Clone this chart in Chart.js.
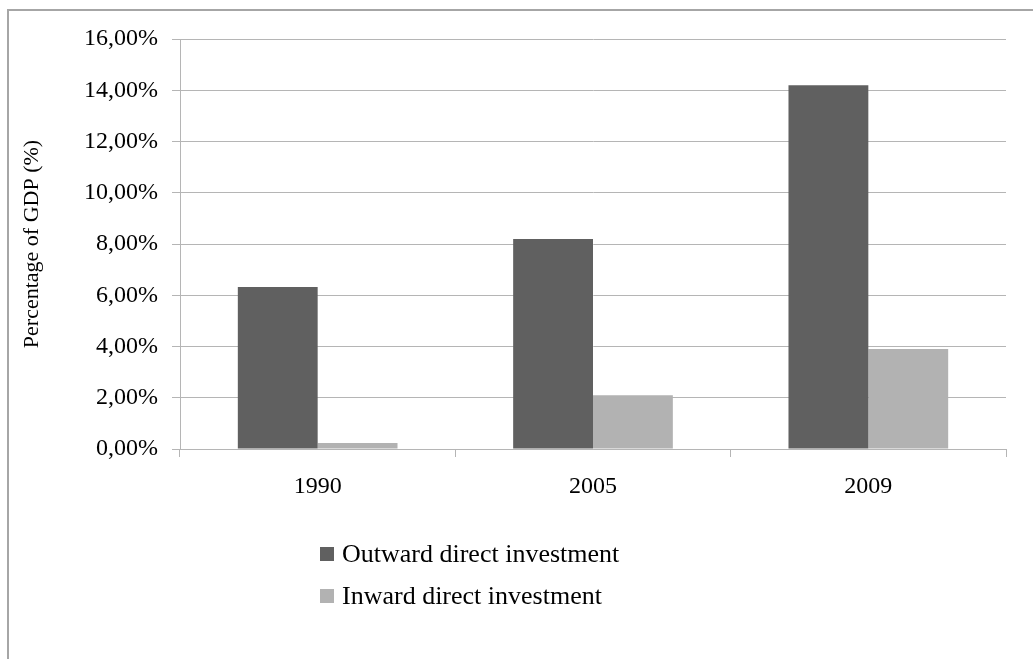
<!DOCTYPE html>
<html>
<head>
<meta charset="utf-8">
<script src="https://cdn.jsdelivr.net/npm/chart.js@4"></script>
<style>
  html, body { margin: 0; padding: 0; background: #fff; overflow: hidden; }
  #wrap { position: relative; width: 1033px; height: 659px; }
  #frame { position: absolute; left: 7px; top: 9px; width: 1100px; height: 700px; border: 2px solid #a6a6a6; }
  #legend { position: absolute; left: 320px; top: 538px; font-family: "Liberation Serif", "Times New Roman", serif; font-size: 26px; color: #000; }
  #legend div { height: 42px; line-height: 32px; white-space: nowrap; }
  #legend span.box { display: inline-block; width: 14px; height: 14px; margin-right: 8px; vertical-align: 1px; }
</style>
</head>
<body>
<div id="wrap">
  <div id="frame"></div>
  <canvas id="investChart" width="1033" height="659"></canvas>
  <div id="legend"></div>
</div>
<script>
var years = ['1990', '2005', '2009'];
var outwardValues = [6.32, 8.2, 14.2];
var inwardValues = [0.23, 2.1, 3.9];
var seriesNames = ['Outward direct investment', 'Inward direct investment'];
var yTicks = [0, 2, 4, 6, 8, 10, 12, 14, 16];

var gridGrey = '#b5b5b5';
var fontFamily = '"Liberation Serif", "Times New Roman", serif';

var ctx = document.getElementById('investChart').getContext('2d');
var investChart = new Chart(ctx, {
    type: 'bar',
    data: {
        labels: years,
        datasets: [{
            label: seriesNames[0],
            data: outwardValues,
            backgroundColor: '#606060'
        }, {
            label: seriesNames[1],
            data: inwardValues,
            backgroundColor: '#b2b2b2'
        }]
    },
    options: {
        responsive: false,
        animation: false,
        layout: { padding: { left: 0, top: 39, right: 27, bottom: 0 } },
        datasets: {
            bar: { barPercentage: 1, categoryPercentage: 0.58 }
        },
        plugins: {
            legend: { display: false },
            tooltip: { enabled: false }
        },
        scales: {
            x: {
                grid: {
                    display: true,
                    drawOnChartArea: false,
                    drawTicks: true,
                    tickLength: 8,
                    color: gridGrey,
                    offset: true
                },
                border: { color: gridGrey, width: 1 },
                ticks: {
                    color: '#000',
                    padding: 15,
                    font: { family: fontFamily, size: 24 }
                },
                afterFit: function (scale) { scale.height = 210; }
            },
            y: {
                min: 0,
                max: 16,
                afterBuildTicks: function (scale) {
                    scale.ticks = yTicks.map(function (v) { return { value: v }; });
                },
                grid: {
                    color: gridGrey,
                    lineWidth: 1,
                    tickLength: 8
                },
                border: { color: gridGrey, width: 1 },
                ticks: {
                    color: '#000',
                    padding: 14,
                    font: { family: fontFamily, size: 24 }
                    ,
                    callback: function (value) {
                        return value.toFixed(2).replace('.', ',') + '%';
                    }
                },
                title: {
                    display: true,
                    text: 'Percentage of GDP (%)',
                    color: '#000',
                    padding: { top: 19 },
                    font: { family: fontFamily, size: 22 }
                },
                afterFit: function (scale) { scale.width = 180; }
            }
        }
    }
});

// legend, stacked like the original
var legendEl = document.getElementById('legend');
investChart.data.datasets.forEach(function (ds) {
    var row = document.createElement('div');
    var box = document.createElement('span');
    box.className = 'box';
    box.style.background = ds.backgroundColor;
    row.appendChild(box);
    row.appendChild(document.createTextNode(ds.label));
    legendEl.appendChild(row);
});
</script>
</body>
</html>
